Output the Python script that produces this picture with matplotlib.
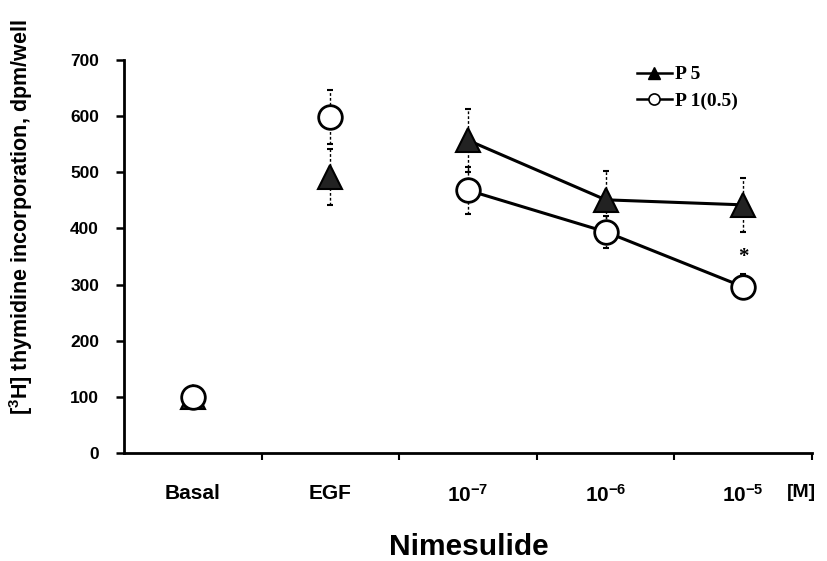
import numpy as np
import matplotlib
matplotlib.use("Agg")
import matplotlib.pyplot as plt

plt.rcParams['font.family'] = ['Liberation Sans', 'DejaVu Sans']
plt.rcParams['mathtext.fontset'] = 'custom'
plt.rcParams['mathtext.rm'] = 'Liberation Sans'
plt.rcParams['mathtext.bf'] = 'Liberation Sans:bold'

# data
categories = ['Basal', 'EGF', r'$\mathbf{10^{-7}}$', r'$\mathbf{10^{-6}}$', r'$\mathbf{10^{-5}}$']
p5 = [100, 492, 557, 451, 442]
p5_err = [0, 50, 56, 51, 48]
p1 = [100, 598, 468, 394, 296]
p1_err = [0, 48, 42, 29, 22]
yticks = [0, 100, 200, 300, 400, 500, 600, 700]

x = np.arange(len(categories)) + 0.5

fig = plt.figure(figsize=(8.28, 5.61), dpi=100)
ax = fig.add_axes([0.1498, 0.1925, 0.831, 0.7005])

# error bars (thin, dashed)
for vals, errs in ((p5, p5_err), (p1, p1_err)):
    eb = ax.errorbar(x, vals, yerr=errs, fmt='none', ecolor='black',
                     elinewidth=1.0, capsize=2.5, capthick=1.5, zorder=1)
    eb[2][0].set_linestyle((0, (2, 1.5)))

# connecting lines for the nimesulide doses only
ax.plot(x[2:], p5[2:], color='black', lw=2.2, zorder=2)
ax.plot(x[2:], p1[2:], color='black', lw=2.2, zorder=2)

ax.plot(x, p5, linestyle='none', marker='^', ms=17, mfc='#222222', mec='black',
        mew=1.5, zorder=3)
ax.plot(x, p1, linestyle='none', marker='o', ms=17, mfc='white', mec='black',
        mew=2.0, zorder=4)

# significance mark
ax.text(x[4], 350, '*', ha='center', va='center', fontsize=15,
        family='Liberation Serif', fontweight='bold')

# legend
h1, = ax.plot([], [], color='black', lw=1.8, marker='^', ms=8, mfc='black')
h2, = ax.plot([], [], color='black', lw=1.8, marker='o', ms=8, mfc='white', mew=1.2)
ax.legend([h1, h2], ['P 5', 'P 1(0.5)'], loc='upper left',
          bbox_to_anchor=(0.72, 1.03), frameon=False, handlelength=1.8,
          handletextpad=0.15, labelspacing=0.45,
          prop={'family': 'Liberation Serif', 'weight': 'bold', 'size': 14})

ax.set_xlim(0, 5)
ax.set_ylim(0, 700)
ax.set_yticks(yticks)
ax.set_yticklabels([str(v) for v in yticks], fontweight='bold', fontsize=12.5)
ax.tick_params(axis='y', length=6, width=1.8, pad=12)

ax.set_xticks([1, 2, 3, 4, 5])
ax.set_xticklabels([])
ax.tick_params(axis='x', which='major', length=5, width=1.5, direction='out')
ax.set_xticks(x, minor=True)
ax.set_xticklabels(categories, minor=True, fontweight='bold', fontsize=15)
ax.tick_params(axis='x', which='minor', length=0, pad=22)

for side in ('top', 'right'):
    ax.spines[side].set_visible(False)
for side in ('left', 'bottom'):
    ax.spines[side].set_linewidth(2.0)

ax.text(0.985, -0.1, '[M]', transform=ax.transAxes, ha='center', va='center',
        fontsize=14, fontweight='bold')

ax.set_ylabel(r'[$^{\mathbf{3}}$H] thymidine incorporation, dpm/well',
              fontweight='bold', fontsize=15.5)
ax.yaxis.set_label_coords(-0.129, 0.6)
fig.text(0.566, 0.025, 'Nimesulide', ha='center', va='center', fontsize=21.5,
         fontweight='bold')

fig.savefig('out.png', dpi=100)
